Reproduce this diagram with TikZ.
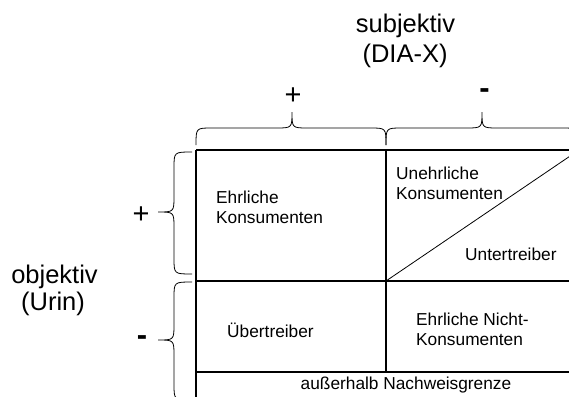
\documentclass[tikz,border=0pt]{standalone}
\usepackage{fontspec}
\setmainfont{Liberation Sans}
\begin{document}
\begin{tikzpicture}[x=1pt,y=-1pt,
  grid/.style={line width=1.7pt},
  thinline/.style={line width=0.8pt},
  bracepath/.style={line width=0.8pt},
  celltext/.style={inner sep=0pt,align=left,font=\fontsize{17.3}{20}\selectfont},
  bigtext/.style={inner sep=0pt,font=\fontsize{25.5}{30}\selectfont},
  signtext/.style={inner sep=0pt,font=\fontsize{29}{30}\selectfont},
  dashtext/.style={inner sep=0pt,font=\bfseries\fontsize{31}{30}\selectfont}]
\useasboundingbox (0,0) rectangle (569,396);
\clip (0,0) rectangle (569,396);
% grid corners
\coordinate (tl) at (196,150);
\coordinate (tm) at (386,150);
\coordinate (tr) at (579,150);
\coordinate (ml) at (196,281);
\coordinate (mm) at (386,281);
\coordinate (mr) at (579,281);
\coordinate (bl) at (196,372);
\coordinate (bm) at (386,372);
\coordinate (br) at (579,372);
\coordinate (ll) at (196,400);
\draw[grid] (tl) -- (tr);
\draw[grid] (ml) -- (mr);
\draw[grid] (tl) -- (ll);
\draw[grid] (tm) -- (bm);
\draw[grid] (tr) -- (br);
\draw[line width=1.3pt] (bl) -- (br);
\draw[thinline] (mm) -- (tr);
% top braces
\draw[bracepath] (196,145) .. controls (196,128) .. (212,128) -- (276,128)
  .. controls (292,128) .. (292,112) .. controls (292,128) .. (308,128)
  -- (370,128) .. controls (386,128) .. (386,145);
\draw[bracepath] (386,145) .. controls (386,128) .. (402,128) -- (466,128)
  .. controls (482,128) .. (482,112) .. controls (482,128) .. (498,128)
  -- (562,128) .. controls (578,128) .. (578,145);
% left braces
\draw[bracepath] (192,152) .. controls (174,152) .. (174,168) -- (174,196)
  .. controls (174,212) .. (158,212) .. controls (174,212) .. (174,228)
  -- (174,258) .. controls (174,274) .. (192,274);
\draw[bracepath] (192,282) .. controls (174,282) .. (174,298) -- (174,324)
  .. controls (174,340) .. (158,340) .. controls (174,340) .. (174,356)
  -- (174,384) .. controls (174,400) .. (192,400);
% headings
\node[bigtext,anchor=base] (subj) at (405.5,33) {subjektiv};
\node[bigtext,anchor=base] (dia) at (405,63) {(DIA-X)};
\node[bigtext,anchor=base] (obj) at (54.5,283) {objektiv};
\node[bigtext,anchor=base] (urin) at (53,310) {(Urin)};
\node[signtext] (plustop) at (293,96) {+};
\node[dashtext] (minustop) at (484.5,94) {-};
\node[signtext] (plusleft) at (141,215) {+};
\node[dashtext] (minusleft) at (142,341) {-};
% cell texts
\node[celltext,anchor=west] (ek) at (216,207.5) {Ehrliche\\Konsumenten};
\node[celltext,anchor=west] (uk) at (396,183) {Unehrliche\\Konsumenten};
\node[celltext,anchor=west] (ut) at (465,254) {Untertreiber};
\node[celltext,anchor=base west] (ub) at (227,337) {Übertreiber};
\node[celltext,anchor=west] (enk) at (416,329.5) {Ehrliche Nicht-\\Konsumenten};
\node[celltext,anchor=base] (ang) at (406,389) {außerhalb Nachweisgrenze};
\end{tikzpicture}
\end{document}
